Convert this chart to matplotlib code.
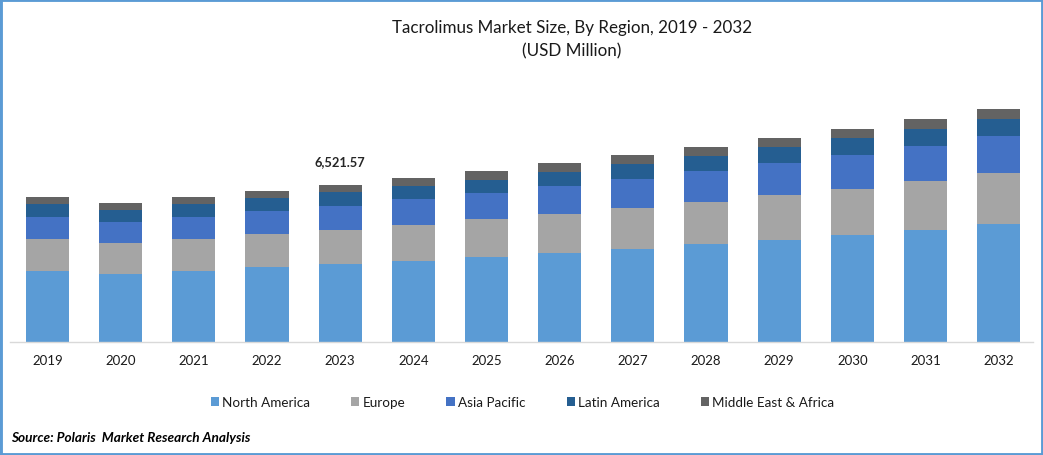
"""Tacrolimus market size stacked bars."""

import matplotlib

matplotlib.use("Agg")
import matplotlib.pyplot as plt
from matplotlib.patches import Rectangle

WIDTH, HEIGHT = 1043, 456

years = [2019, 2020, 2021, 2022, 2023, 2024, 2025, 2026, 2027, 2028, 2029, 2030, 2031, 2032]
north_america = [2949, 2825, 2949, 3116, 3240, 3365, 3531, 3697, 3863, 4071, 4237, 4445, 4652, 4902]
europe = [1329, 1288, 1329, 1371, 1412, 1495, 1579, 1620, 1703, 1745, 1869, 1911, 2035, 2119]
asia_pacific = [914, 872, 914, 955, 997, 1080, 1080, 1163, 1205, 1288, 1329, 1412, 1454, 1537]
latin_america = [540, 498, 540, 540, 582, 540, 540, 582, 623, 623, 665, 706, 706, 706]
middle_east_africa = [291, 291, 291, 291, 291, 332, 374, 374, 374, 374, 374, 374, 415, 415]

region_names = ["North America", "Europe", "Asia Pacific", "Latin America", "Middle East & Africa"]
region_colors = ["#5B9BD5", "#A5A5A5", "#4472C4", "#255E91", "#636363"]
label_year = 2023
label_text = "6,521.57"

plt.rcParams["font.family"] = ["Lato", "DejaVu Sans"]

fig = plt.figure(figsize=(WIDTH / 100, HEIGHT / 100), dpi=100)
fig.patch.set_facecolor("white")

# axes box in pixels, baseline sits just under y=342
left, right, top, bottom = 10, 1033, 101, 343
ax = fig.add_axes([left / WIDTH, 1 - bottom / HEIGHT, (right - left) / WIDTH, (bottom - top) / HEIGHT])

positions = list(range(len(years)))
series = [north_america, europe, asia_pacific, latin_america, middle_east_africa]
base = [0] * len(years)
for name, color, values in zip(region_names, region_colors, series):
    ax.bar(positions, values, width=0.59, bottom=base, color=color, label=name)
    base = [b + v for b, v in zip(base, values)]

idx = years.index(label_year)
ax.annotate(label_text, (idx, base[idx]), xytext=(0, 17.3), textcoords="offset points",
            ha="center", va="center", fontsize=9.3, fontweight="bold", color="#262626")

ax.set_xlim(-0.513, 13.47)
ax.set_ylim(0, 10053)
ax.set_xticks(positions)
ax.set_xticklabels(years, fontsize=9.5, color="#1a1a1a")
ax.tick_params(axis="x", length=0, pad=9)
ax.set_yticks([])
for side in ["top", "left", "right"]:
    ax.spines[side].set_visible(False)
ax.spines["bottom"].set_color("#D9D9D9")
ax.spines["bottom"].set_linewidth(1.0)

fig.text(572 / WIDTH, 1 - 28 / HEIGHT, "Tacrolimus Market Size, By Region, 2019 - 2032",
         ha="center", va="center", fontsize=12.25, color="#1a1a1a")
fig.text(572 / WIDTH, 1 - 51 / HEIGHT, "(USD Million)",
         ha="center", va="center", fontsize=12.25, color="#1a1a1a")

fig.legend(loc="center", bbox_to_anchor=(522.5 / WIDTH, 1 - 403.5 / HEIGHT), ncol=5, frameon=False,
           fontsize=9.7, handlelength=0.6, handleheight=0.6, handletextpad=0.25,
           columnspacing=3.05, labelcolor="#1a1a1a")

fig.text(11 / WIDTH, 1 - 438 / HEIGHT, "Source: Polaris  Market Research Analysis",
         ha="left", va="center", fontsize=9.8, fontweight="bold", fontstyle="italic", color="black")

# blue frame around the whole picture
fig.add_artist(Rectangle((0, 0), 1, 1, transform=fig.transFigure, fill=False,
                         edgecolor="#5B9BD5", linewidth=3.5))

fig.savefig("out.png", dpi=100)
